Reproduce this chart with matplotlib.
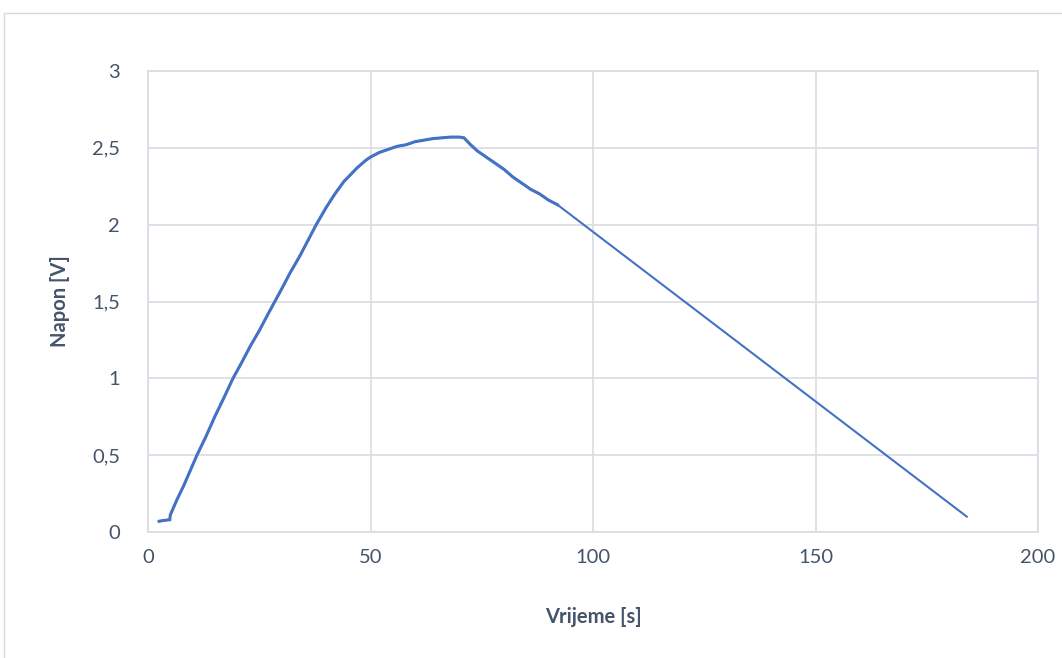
import matplotlib.pyplot as plt
from matplotlib.patches import Rectangle
from matplotlib.ticker import FuncFormatter

# measured voltage vs time
t = [2.5, 3.5, 4.9, 5.0, 5.3, 6.5, 8, 9.5, 11, 13, 15, 17, 19.1, 21, 23, 25, 27,
     28.5, 30, 32, 34, 36, 37.8, 40, 42, 44, 45, 47, 49, 50, 52, 54, 56, 58, 60,
     62, 64, 66, 68, 70, 71, 72.5, 74, 76, 78, 80, 82, 84, 86, 88, 90, 92, 184]
v = [0.07, 0.075, 0.08, 0.11, 0.13, 0.21, 0.30, 0.40, 0.50, 0.62, 0.75, 0.87, 1.00,
     1.10, 1.21, 1.31, 1.42, 1.50, 1.58, 1.69, 1.79, 1.90, 2.00, 2.11, 2.20, 2.28,
     2.31, 2.37, 2.42, 2.44, 2.47, 2.49, 2.51, 2.52, 2.54, 2.55, 2.56, 2.565, 2.57,
     2.57, 2.565, 2.52, 2.48, 2.44, 2.40, 2.36, 2.31, 2.27, 2.23, 2.20, 2.16, 2.13, 0.10]

x_ticks = [0, 50, 100, 150, 200]
y_ticks = [0, 0.5, 1, 1.5, 2, 2.5, 3]

txt = '#44546A'
grid = '#D9DCE3'
plt.rcParams['font.family'] = ['Lato', 'DejaVu Sans']

fig = plt.figure(figsize=(10.62, 6.58), dpi=100)
fig.patches.append(Rectangle((4/1062, -0.1), 1.2, 1.1 - 13/658, transform=fig.transFigure,
                             fill=False, edgecolor='#D9D9D9', lw=1))
ax = fig.add_axes([148/1062, 126/658, 890/1062, 461/658])

ax.plot(t, v, color='#4472C4', lw=1.5)
# dense measured part looks heavier
ax.plot(t[:-1], v[:-1], color='#4472C4', lw=2.2, solid_joinstyle='miter')

ax.set_xlim(0, 200)
ax.set_ylim(0, 3)
ax.set_xticks(x_ticks)
ax.set_yticks(y_ticks)
ax.yaxis.set_major_formatter(FuncFormatter(lambda y, p: ('%g' % y).replace('.', ',')))
ax.grid(True, color=grid, lw=1.2)
ax.set_axisbelow(True)
for s in ax.spines.values():
    s.set_color(grid)
    s.set_linewidth(1.2)
ax.tick_params(length=0, labelsize=14.5, colors=txt, pad=12)
ax.tick_params(axis='y', pad=20)

ax.set_xlabel('Vrijeme [s]', fontsize=14.5, fontweight='bold', color=txt, labelpad=30)
ax.set_ylabel('Napon [V]', fontsize=14.5, fontweight='bold', color=txt, labelpad=16)

fig.savefig('out.png', dpi=100)
